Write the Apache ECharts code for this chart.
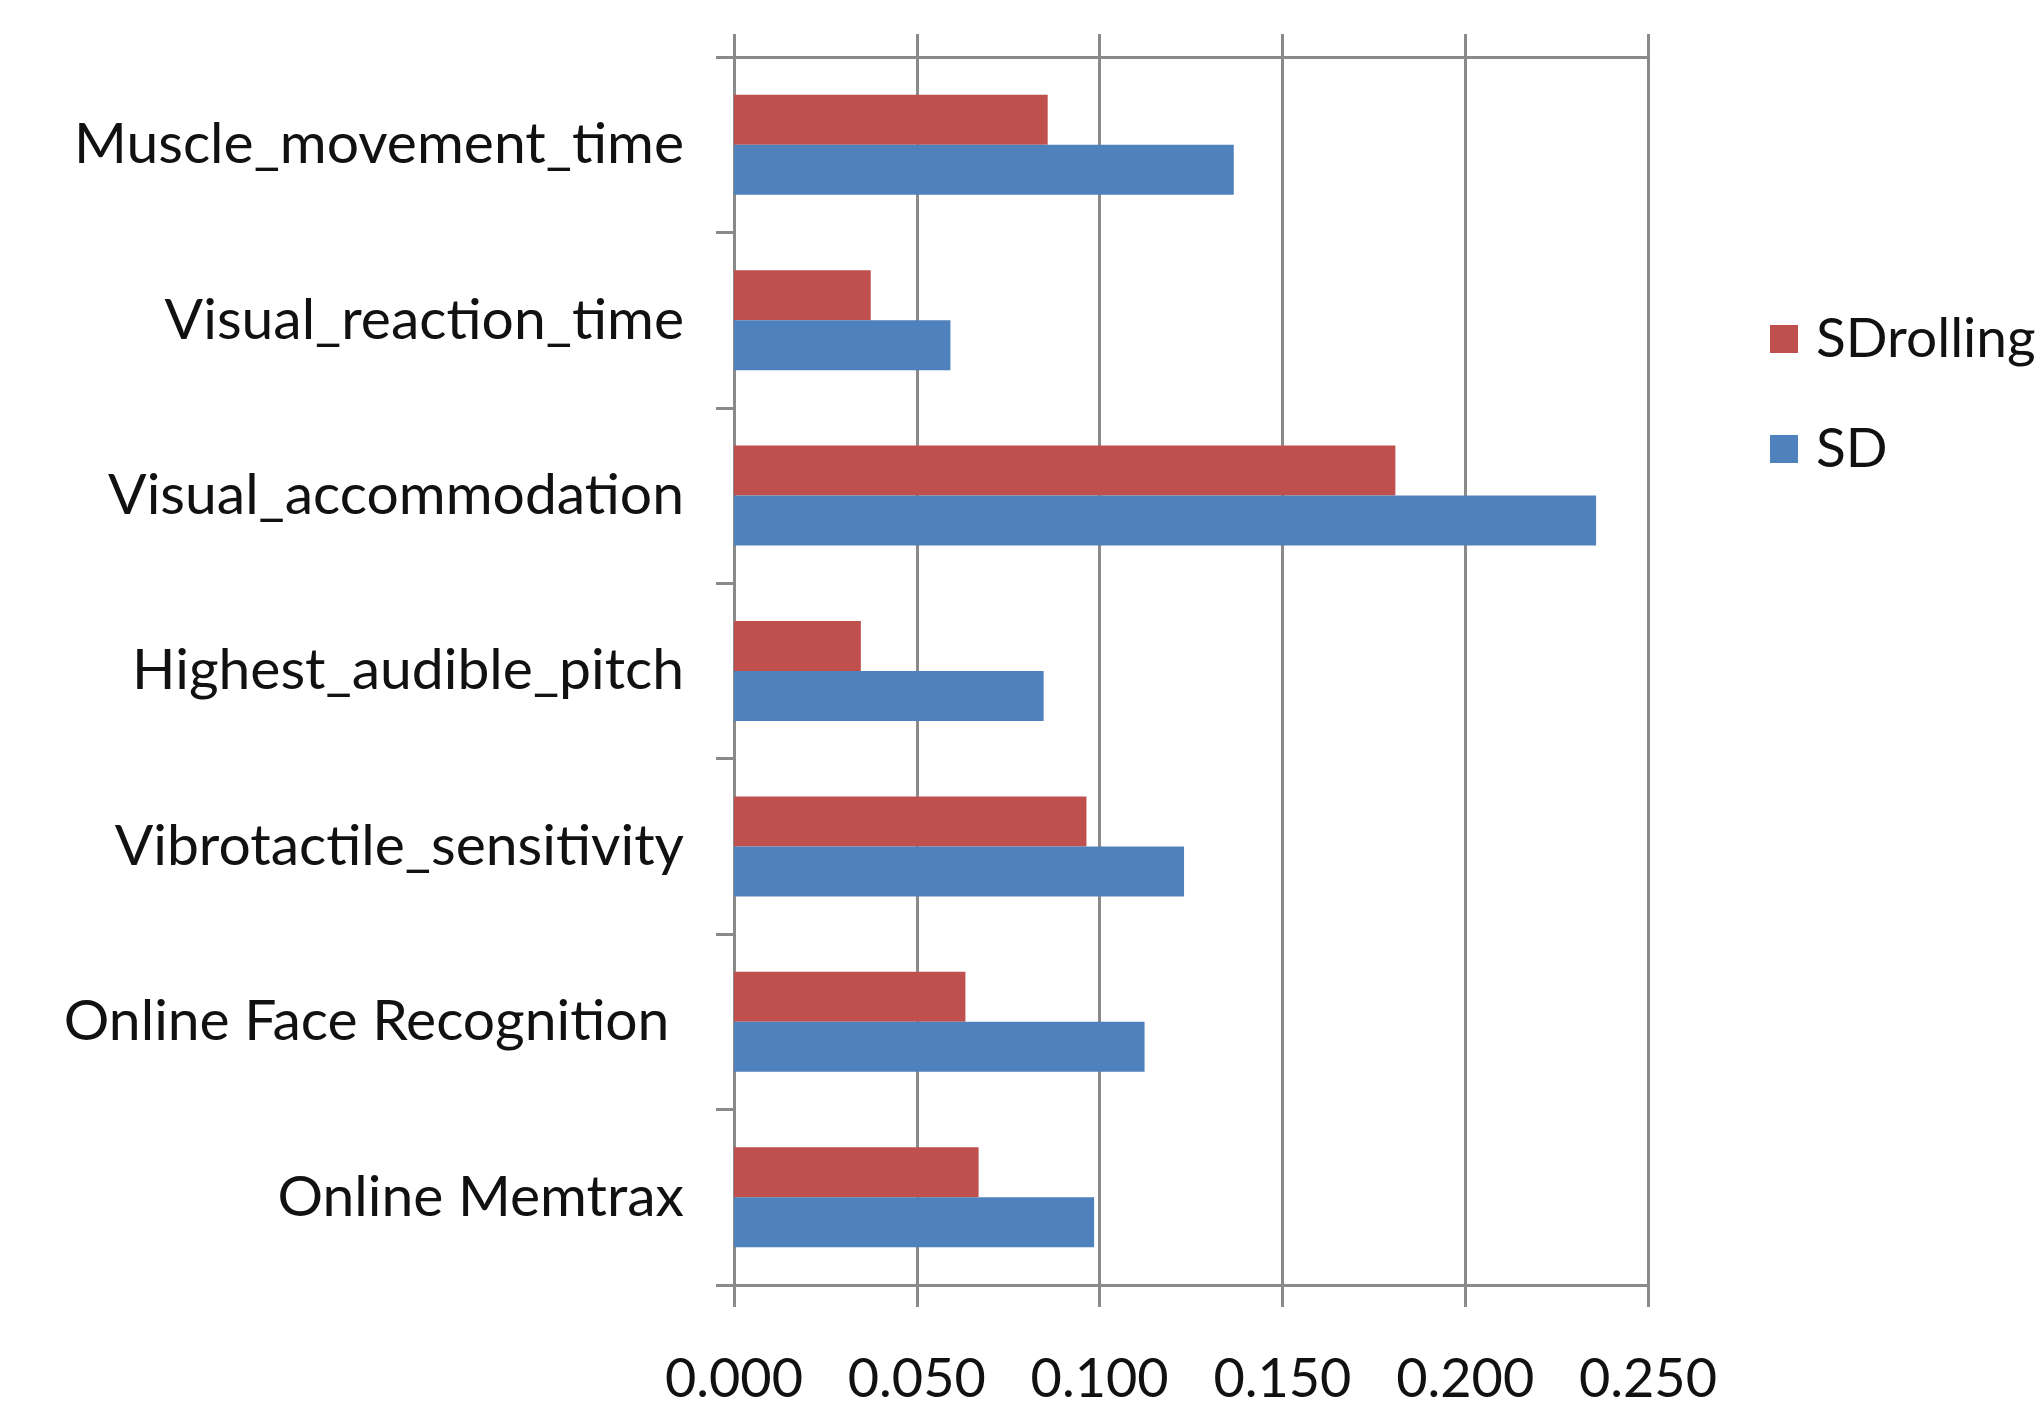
<!DOCTYPE html>
<html>
<head>
<meta charset="utf-8">
<script src="https://cdn.jsdelivr.net/npm/echarts@6/dist/echarts.min.js"></script>
<style>
html,body{margin:0;padding:0;background:#fff;}
#chart{width:2043px;height:1413px;}
</style>
</head>
<body>
<div id="chart"></div>
<script>
const categories = ["Muscle_movement_time","Visual_reaction_time","Visual_accommodation","Highest_audible_pitch","Vibrotactile_sensitivity","Online Face Recognition ","Online Memtrax"];
const sdRolling = [0.0858,0.0374,0.1809,0.0347,0.0964,0.0633,0.0669];
const sd = [0.1367,0.0592,0.2358,0.0847,0.1231,0.1123,0.0985];
const seriesNames = ["SDrolling","SD"];
const xTicks = {min:0,max:0.25,interval:0.05};

const FONT = "Lato";
const gridColor = "#8a8a8a";
const chart = echarts.init(document.getElementById('chart'));
chart.setOption({
  animation:false,
  backgroundColor:'#fff',
  legend:{
    orient:'vertical',
    left:1765, top:306,
    icon:'rect', itemWidth:28, itemHeight:28, itemGap:54,
    textStyle:{fontFamily:FONT,fontSize:55,color:'#111',lineHeight:56,padding:[0,0,0,13]},
    data:seriesNames
  },
  grid:{left:734,right:395,top:57,bottom:128,containLabel:false},
  xAxis:[{
    type:'value',position:'bottom',min:xTicks.min,max:xTicks.max,interval:xTicks.interval,
    axisLine:{show:true,lineStyle:{color:gridColor,width:3}},
    axisTick:{show:true,length:22,lineStyle:{color:gridColor,width:3}},
    splitLine:{show:true,lineStyle:{color:gridColor,width:3}},
    axisLabel:{fontFamily:FONT,fontSize:54,color:'#111',margin:68,formatter:v=>v.toFixed(3)}
  },{
    type:'value',position:'top',min:xTicks.min,max:xTicks.max,interval:xTicks.interval,
    axisLine:{show:true,lineStyle:{color:gridColor,width:3}},
    axisTick:{show:true,length:23,lineStyle:{color:gridColor,width:3}},
    splitLine:{show:false},
    axisLabel:{show:false}
  }],
  yAxis:{
    type:'category',data:categories,inverse:true,
    axisLine:{show:true,lineStyle:{color:gridColor,width:3}},
    axisTick:{show:true,length:18,lineStyle:{color:gridColor,width:3}},
    axisLabel:{fontFamily:FONT,fontSize:57,color:'#111',margin:50}
  },
  series:[
    {name:seriesNames[0],type:'bar',data:sdRolling,itemStyle:{color:'#C0504D'},barGap:'0%',barCategoryGap:'43%'},
    {name:seriesNames[1],type:'bar',data:sd,itemStyle:{color:'#4F81BD'},barGap:'0%',barCategoryGap:'43%'}
  ]
});
</script>
</body>
</html>
